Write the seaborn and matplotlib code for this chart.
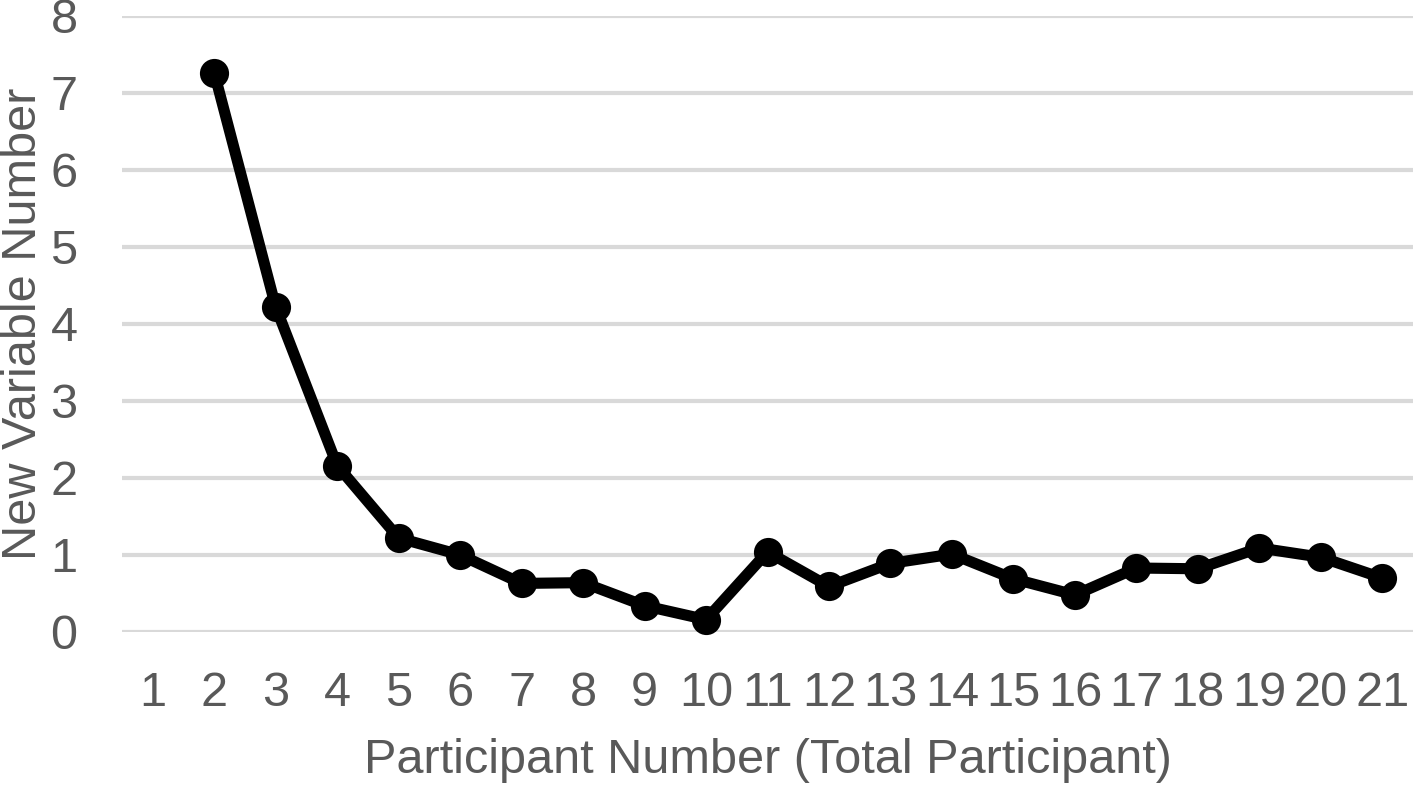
import pandas as pd
import matplotlib.pyplot as plt
import seaborn as sns

# --- data ---
participants = list(range(2, 22))
new_vars = [7.26, 4.22, 2.16, 1.22, 1.00, 0.63, 0.64, 0.34, 0.16, 1.04,
            0.59, 0.89, 1.01, 0.69, 0.48, 0.83, 0.82, 1.09, 0.97, 0.70]
tick_labels = [str(i) for i in range(1, 22)]

df = pd.DataFrame({'participant': participants, 'new_vars': new_vars})

sns.set_style('white')
plt.rcParams['font.family'] = ['Liberation Sans', 'DejaVu Sans']
grey = '#595959'

fig = plt.figure(figsize=(14.14, 7.86), dpi=100)
ax = fig.add_axes([0.0863, 0.196, 0.913, 0.784])

sns.lineplot(data=df, x='participant', y='new_vars', ax=ax, color='black',
             linewidth=8, marker='o', markersize=21, markeredgewidth=0,
             zorder=3, clip_on=False)

ax.set_xlim(0.5, 21.5)
ax.set_ylim(0, 8)
ax.set_xticks(range(1, 22))
ax.set_xticklabels(tick_labels)
ax.set_yticks(range(0, 9))
ax.yaxis.grid(True, color='#d9d9d9', linewidth=3)
ax.set_axisbelow(True)
for s in ax.spines.values():
    s.set_visible(False)
ax.tick_params(axis='both', length=0, labelsize=35, colors=grey)
ax.tick_params(axis='x', pad=28)
ax.tick_params(axis='y', pad=32)

ax.set_xlabel('Participant Number (Total Participant)', fontsize=35, color=grey, labelpad=16)
ax.set_ylabel('New Variable Number', fontsize=35, color=grey, labelpad=3)

fig.savefig('out.png', dpi=100)
